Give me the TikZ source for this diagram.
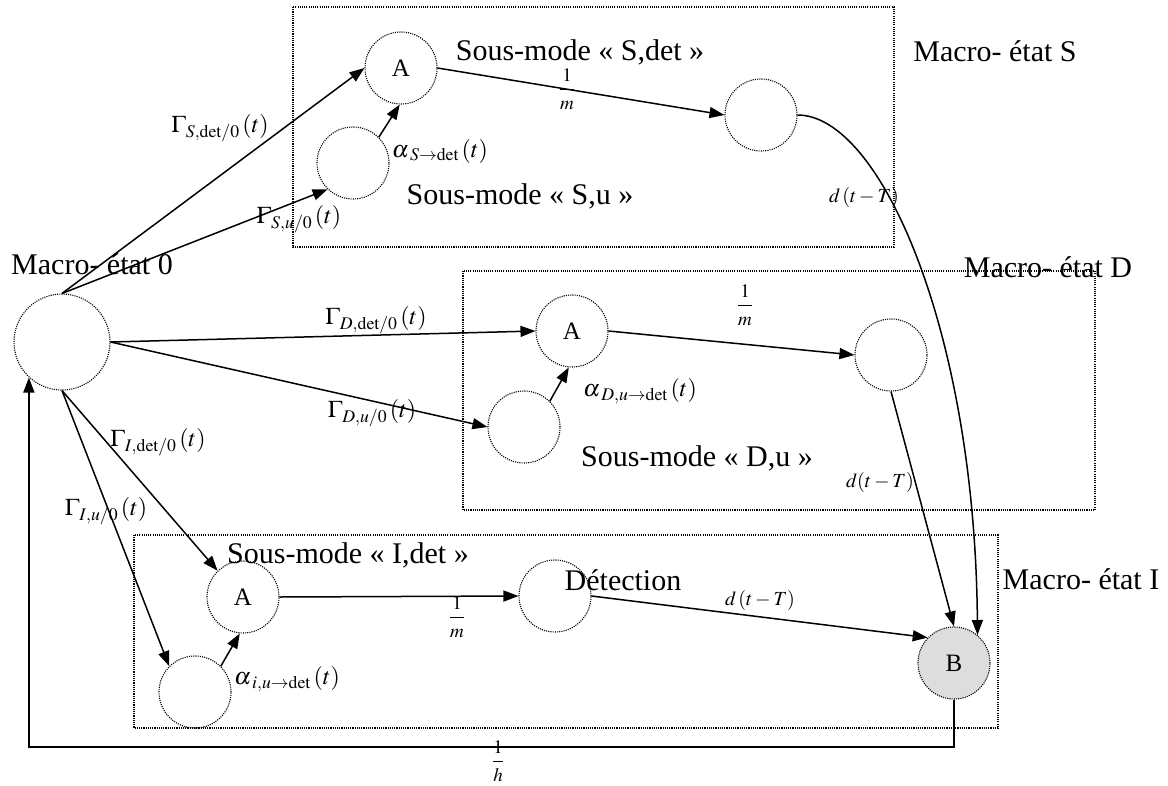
\documentclass[tikz,border=0pt]{standalone}
\usepackage{mathptmx}
\usepackage{fontspec}
\setmainfont{Liberation Serif}
\usetikzlibrary{arrows.meta}
\newcommand{\myfr}[2]{$\displaystyle\frac{#1\rule[-5pt]{0pt}{5pt}}{\rule{0pt}{17pt}#2}$}
\begin{document}
\begin{tikzpicture}[x=1pt,y=-1pt,
 st/.style={circle,draw,line width=1.1pt,dash pattern=on 1.1pt off 1.1pt,minimum size=72pt,inner sep=0pt,font=\fontsize{25}{29}\selectfont},
 box/.style={draw,line width=1.1pt,dash pattern=on 1.1pt off 1.1pt},
 arr/.style={line width=1.5pt,-{Triangle[length=15pt,width=11pt]}},
 txt/.style={font=\fontsize{30}{35}\selectfont,inner sep=0pt},
 lab/.style={font=\fontsize{24}{28}\selectfont,inner sep=0pt},
 fr/.style={font=\fontsize{19}{22}\selectfont,inner sep=0pt},
 dl/.style={font=\fontsize{20}{24}\selectfont,inner sep=0pt}]
\useasboundingbox (0,0) rectangle (1168,785);
% boxes
\draw[box] (293,7) rectangle (894,247);
\draw[box] (463,271) rectangle (1095,510);
\draw[box] (134,535) rectangle (998,728);
% states
\node[st, minimum size=96pt] (zero) at (62,342) {};
\node[st] (sa) at (401,68) {A};
\node[st] (su) at (353,163) {};
\node[st] (sr) at (761,115) {};
\node[st] (da) at (572,331) {A};
\node[st] (du) at (524,427) {};
\node[st] (dr) at (891,355) {};
\node[st] (ia) at (243,597) {A};
\node[st] (iu) at (195,692) {};
\node[st] (det) at (555,596) {};
\node[st, fill=gray!27] (b) at (954,663) {B};
% texts
\node[txt] (t0) at (92,264) {Macro- état 0};
\node[txt] (tS) at (995,51) {Macro- état S};
\node[txt] (tD) at (1048,267) {Macro- état D};
\node[txt] (tI) at (1081,579) {Macro- état I};
\node[txt] (tSdet) at (580,52) {Sous-mode « S,det »};
\node[txt] (tSu) at (520,196) {Sous-mode « S,u »};
\node[txt] (tDu) at (697,458) {Sous-mode « D,u »};
\node[txt] (tIdet) at (348,555) {Sous-mode « I,det »};
\node[txt] (tdet) at (623,580) {Détection};
% connectors
\draw[arr] (zero.north) -- (sa.west);
\draw[arr] (zero.north) -- (su.226);
\draw[arr] (zero.east) -- (da.west);
\draw[arr] (zero.east) -- (du.west);
\draw[arr] (zero.south) -- (ia.134);
\draw[arr] (zero.south) -- (iu.135);
\draw[arr] (sa.east) -- (sr.west);
\draw[arr] (su.45) -- (sa.268);
\draw[arr] (sr.east) .. controls (880,115) and (975,330) .. (b.50);
\draw[arr] (da.east) -- (dr.west);
\draw[arr] (du.45) -- (da.265);
\draw[arr] (dr.south) -- (b.north);
\draw[arr] (ia.east) -- (det.west);
\draw[arr] (iu.45) -- (ia.265);
\draw[arr] (det.east) -- (b.136);
\coordinate (fb) at (500,747);
\draw[arr] (b.south) |- (fb) -| (zero.227);
% labels
\node[lab] (g1) at (220,128) {$\Gamma_{S,\mathrm{det}/0}\,(t)$};
\node[lab] (g2) at (299,219) {$\Gamma_{S,u/0}\,(t)$};
\node[lab] (a1) at (440,151) {$\alpha_{\mkern3mu S\rightarrow\mathrm{det}}\,(t)$};
\node[lab] (g3) at (376,320) {$\Gamma_{D,\mathrm{det}/0}\,(t)$};
\node[lab] (g4) at (372,413) {$\Gamma_{D,u/0}\,(t)$};
\node[lab] (g5) at (158,442) {$\Gamma_{I,\mathrm{det}/0}\,(t)$};
\node[lab] (g6) at (106,511) {$\Gamma_{I,u/0}\,(t)$};
\node[lab] (a2) at (640,391) {$\alpha_{\mkern3mu D,u\rightarrow\mathrm{det}}\,(t)$};
\node[lab] (a3) at (287,679) {$\alpha_{\mkern3mu i,u\rightarrow\mathrm{det}}\,(t)$};
\node[fr] (f1) at (567,89) {\myfr{1}{m}};
\node[fr] (f2) at (745,305) {\myfr{1}{m}};
\node[fr] (f3) at (457,617) {\myfr{1}{m}};
\node[fr] (f4) at (498,761) {\myfr{1}{h}};
\node[dl] (d1) at (864,197) {$d\,(t-T)$};
\node[dl] (d2) at (880,482) {$d(t-T)$};
\node[dl] (d3) at (760,600) {$d\,(t-T)$};
\end{tikzpicture}
\end{document}
